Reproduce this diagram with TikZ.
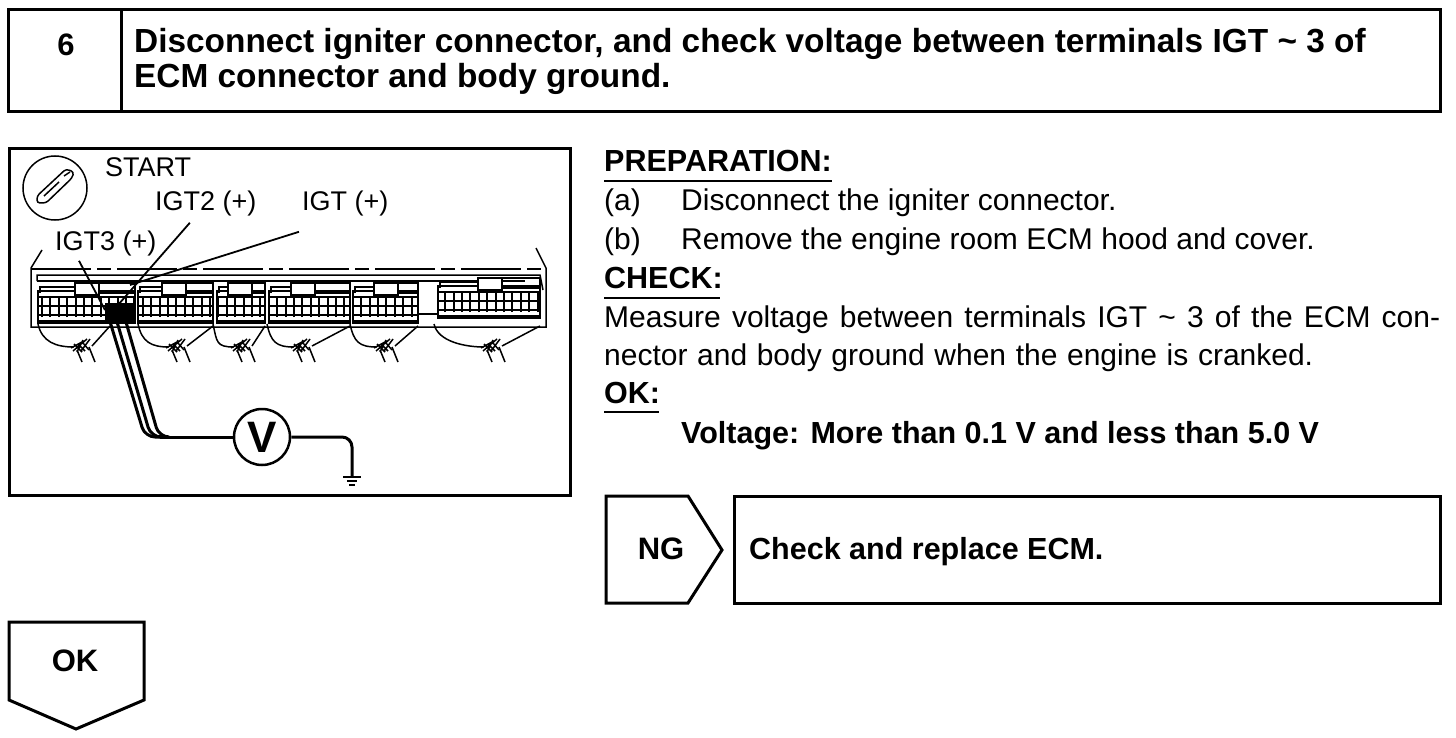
\documentclass[tikz,border=0pt]{standalone}
\usepackage{fontspec}
\setmainfont{Liberation Sans}
\usepackage{tikz}
\usetikzlibrary{arrows,shapes}
\usetikzlibrary{positioning,fit}
\tikzstyle{framebox} = [rectangle, draw, line width=3pt, inner sep=0pt, outer sep=0pt]
\tikzstyle{title} = [anchor=base west, inner sep=0pt, font=\fontsize{33.4}{33.4}\selectfont\bfseries]
\tikzstyle{body} = [anchor=base west, inner sep=0pt, font=\fontsize{30}{30}\selectfont]
\tikzstyle{heading} = [anchor=base west, inner sep=0pt, font=\fontsize{30.5}{30.5}\selectfont\bfseries]
\tikzstyle{tag} = [inner sep=0pt, font=\fontsize{31}{31}\selectfont\bfseries]
\tikzstyle{small} = [anchor=base west, inner sep=0pt, font=\fontsize{27}{27}\selectfont]
\tikzstyle{probe} = [line width=3pt, rounded corners=10pt]
\tikzstyle{wire} = [line width=1.5pt]
\tikzstyle{rule} = [line width=1.5pt]
\newcommand{\ecmblock}[3]{
    \draw [line width=2pt, xstep=8.4pt, ystep=9pt] (#1,297) grid (#2,317);
    \draw [line width=2pt] (#1,322) -- (#1,291) -- (#2,291) -- (#2,322);
    \draw [line width=1.5pt] (#1+2,293) -- (#1+2,287) -- (#3-12,287) (#3+12,283) -- (#2,283) -- (#2,293) -- (#3+12,293);
    \draw [line width=1.5pt, fill=white] (#3-12,295) -- (#3-12,283) -- (#3+12,283) -- (#3+12,295) -- cycle;
    \draw [line width=4.5pt] (#1-1,322) -- (#2+1,322);
}
\newcommand{\ecmharness}[3]{
    \draw [wire] (#1,324) .. controls (#1+4,342) and (#3-24,347) .. (#3-6,347);
    \draw [wire] (#2,326) -- (#3+12,346);
    \draw [wire] (#3-9,348) -- (#3+2,342) (#3-7,351) -- (#3+7,339) (#3-3,352) -- (#3+3,340)
      (#3+1,351) -- (#3+10,339) (#3-6,344) -- (#3+2,352) (#3-2,344) -- (#3+5,351)
      (#3+3,343) -- (#3+9,350);
    \draw [wire] (#3-3,350) -- (#3+2,362) (#3+9,347) -- (#3+15,362);
}
\begin{document}
\begin{tikzpicture}[x=1pt, y=-1pt]
    \useasboundingbox (0,0) rectangle (1456,738);
    % Place nodes
    \node [framebox, minimum width=1432pt, minimum height=102pt] (header) at (724,61) {};
    \node [tag] (stepno) at (66,45) {6};
    \node [title] (title1) at (134,53) {Disconnect igniter connector, and check voltage between terminals IGT \textasciitilde\ 3 of};
    \node [title] (title2) at (134,88) {ECM connector and body ground.};
    \node [framebox, minimum width=561pt, minimum height=346pt] (figure) at (289.5,322) {};
    \node [draw, circle, line width=1.5pt, minimum size=64pt, inner sep=0pt] (keyicon) at (55,188) {};
    \node [small] (start) at (105,177) {START};
    \node [small] (igt2) at (155,211) {IGT2 (+)};
    \node [small] (igt1) at (302,211) {IGT (+)};
    \node [small] (igt3) at (55,250) {IGT3 (+)};
    \node [draw, circle, line width=2.5pt, minimum size=56pt, inner sep=0pt, font=\fontsize{44}{44}\selectfont\bfseries] (meter) at (262,437) {V};
    \coordinate (probeend) at (160,437);
    \coordinate (earth) at (352,477);
    \node [heading] (prep) at (604,172) {PREPARATION:};
    \node [body] (itema) at (604,211) {(a)};
    \node [body] (texta) at (681,211) {Disconnect the igniter connector.};
    \node [body] (itemb) at (604,249) {(b)};
    \node [body] (textb) at (681,249) {Remove the engine room ECM hood and cover.};
    \node [heading] (check) at (604,288) {CHECK:};
    \node [body] (measure1) at (604,327) {\makebox[836pt][s]{Measure voltage between terminals IGT \textasciitilde\ 3 of the ECM con-}};
    \node [body] (measure2) at (604,365) {\makebox[709pt][s]{nector and body ground when the engine is cranked.}};
    \node [heading] (okhead) at (604,403) {OK:};
    \node [heading] (limit) at (681,443) {Voltage: More than 0.1 V and less than 5.0 V};
    \node [tag] (ng) at (661,549) {NG};
    \node [framebox, minimum width=706pt, minimum height=107pt] (replace) at (1087,549.5) {};
    \node [heading] (replacetext) at (749,559) {Check and replace ECM.};
    \node [tag] (ok) at (75,661) {OK};
    % Draw edges
    \draw [rule] (prep.base west) ++(0,9) -- ++(228,0);
    \draw [rule] (check.base west) ++(0,10) -- ++(116,0);
    \draw [rule] (okhead.base west) ++(0,9) -- ++(55,0);
    \draw [framebox] (121,10) -- (121,112);
    \draw [framebox] (606,496) -- (688,496) -- (722,550) -- (688,603) -- (606,603) -- cycle;
    \draw [framebox] (9,622) -- (144,622) -- (144,700) -- (76,729) -- (9,700) -- cycle;
    % ignition key
    \draw [rule, rounded corners=3pt] (37,196) -- (66,169) -- (74,172) -- (72,178) -- (46,203) -- (37,203) -- cycle;
    \draw [rule] (44,196) -- (59,182) (64,176) -- (70,172);
    % ECM housing
    \draw [line width=1.5pt] (42,250) -- (31,268) -- (31,327) -- (546,327) -- (546,268) -- (536,248);
    \draw [line width=1.5pt, dash pattern=on 60pt off 6pt on 14pt off 6pt] (31,269) -- (546,269);
    \draw [line width=1.5pt] (37,281) -- (37,275) -- (540,275) -- (543,290);
    \draw [line width=1.5pt] (37,281) -- (525,281);
    \ecmblock{38}{135}{87}
    \ecmblock{138}{213}{174}
    \ecmblock{217}{265}{240}
    \ecmblock{269}{350}{303}
    \ecmblock{353}{418}{386}
    \begin{scope}[yshift=5pt]
    \ecmblock{438}{540}{490}
    \end{scope}
    \draw [line width=2.5pt] (418,314) -- (438,314);
    \ecmharness{38}{110}{80}
    \ecmharness{138}{213}{175}
    \ecmharness{213}{265}{240}
    \ecmharness{267}{350}{300}
    \ecmharness{350}{418}{383}
    \ecmharness{434}{540}{490}
    % terminals and leaders
    \fill (105,303) rectangle (135,320);
    \draw [line width=1.8pt] (igt3.south west) ++(24,5) -- (105,310);
    \draw [line width=1.8pt] (igt2.south) ++(-16,6) -- (118,305);
    \draw [line width=1.8pt] (igt1.south west) ++(-3,15) -- (130,285);
    \draw [probe] (108,315) -- (145,437) -- (probeend);
    \draw [probe] (115,315) -- (151,437) -- (probeend);
    \draw [probe] (124,315) -- (159,437) -- (probeend);
    \draw [probe] (probeend) -- (meter);
    \draw [probe] (meter) -- (352,437) -- (earth);
    \draw [line width=2.5pt] (343,477) -- (361,477) (347,481) -- (357,481) (349,485) -- (355,485);
\end{tikzpicture}
\end{document}
